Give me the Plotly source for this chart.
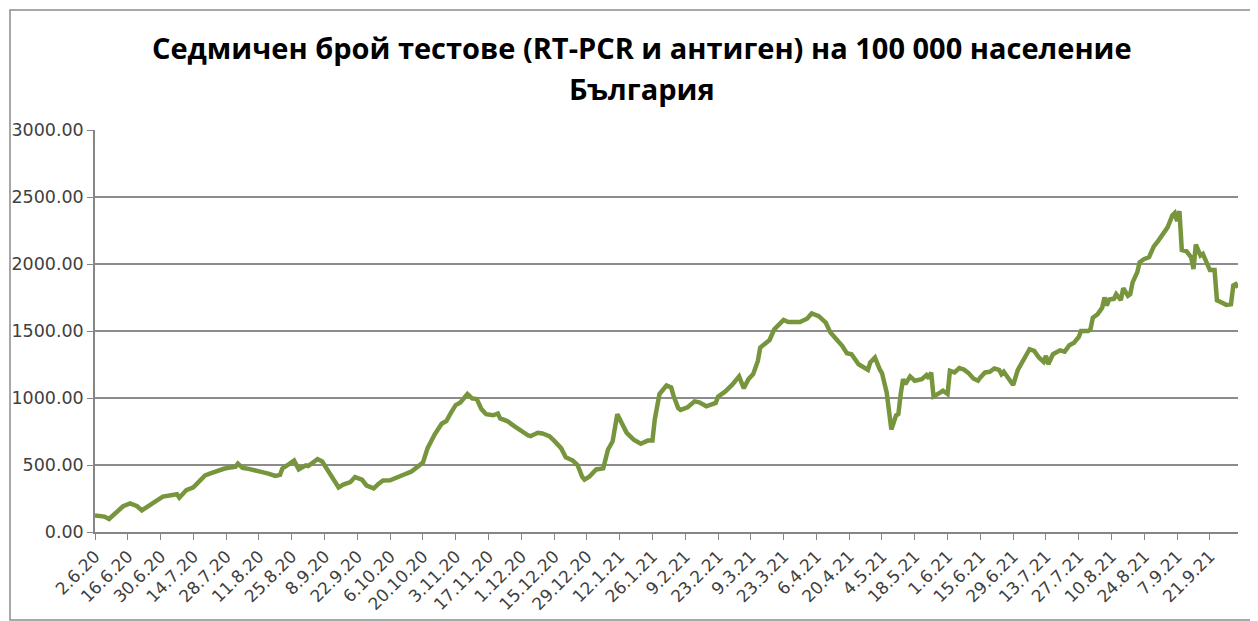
import pandas as pd
import plotly.graph_objects as go

# ---- data ----
start_date = "2020-06-02"
end_date = "2021-10-03"
day_offset = [0, 4, 6, 9, 12, 15, 18, 20, 24, 26, 29, 33, 35, 36, 39, 42, 45, 47, 49, 52,
              55, 58, 60, 61, 63, 66, 69, 71, 74, 77, 79, 80, 83, 85, 87, 89, 90, 91, 94, 95,
              97, 98, 100, 102, 104, 106, 109, 111, 114, 116, 119, 121, 123, 126, 129, 132, 135, 138, 140, 142,
              145, 148, 150, 152, 154, 156, 158, 159, 161, 163, 165, 167, 170, 172, 173, 176, 179, 182, 185, 186,
              189, 191, 194, 196, 199, 201, 204, 206, 208, 209, 211, 214, 217, 219, 221, 223, 225, 227, 230, 233,
              236, 238, 239, 241, 244, 246, 247, 249, 250, 253, 256, 258, 261, 263, 265, 266, 269, 272, 275, 277,
              279, 281, 283, 284, 286, 288, 290, 292, 294, 296, 299, 301, 304, 306, 309, 311, 312, 314, 316, 319,
              321, 323, 326, 329, 330, 331, 333, 335, 336, 338, 339, 340, 342, 343, 344, 345, 346, 348, 350, 353,
              355, 356, 357, 358, 361, 362, 364, 365, 367, 369, 371, 373, 375, 377, 378, 380, 382, 384, 386, 387,
              388, 390, 392, 394, 396, 399, 401, 403, 405, 406, 407, 409, 412, 414, 416, 418, 420, 421, 424, 425,
              426, 428, 430, 431, 432, 433, 435, 436, 438, 439, 441, 442, 443, 445, 446, 448, 450, 452, 454, 456,
              458, 460, 461, 462, 463, 464, 466, 468, 469, 470, 472, 473, 475, 476, 478, 479, 481, 483, 485, 486,
              487, 488]
tests_per_100k = [123, 115, 97, 141, 192, 213, 192, 161, 213, 231, 264, 277, 282, 256, 313, 333, 390, 423, 436, 456,
                  472, 482, 487, 510, 479, 469, 462, 449, 436, 418, 426, 474, 508, 533, 467, 487, 497, 492, 526, 544,
                  526, 500, 436, 385, 333, 354, 372, 410, 390, 346, 326, 359, 385, 386, 404, 429, 450, 495, 518, 626,
                  727, 808, 828, 891, 947, 967, 1005, 1030, 997, 992, 917, 879, 871, 884, 848, 828, 790, 752, 720, 715,
                  740, 735, 715, 682, 626, 558, 533, 500, 412, 391, 412, 467, 475, 614, 677, 879, 816, 740, 689, 659,
                  682, 682, 841, 1030, 1093, 1079, 1017, 925, 911, 931, 975, 968, 938, 955, 963, 1010, 1047, 1097, 1161, 1072,
                  1141, 1178, 1277, 1376, 1401, 1433, 1512, 1549, 1582, 1567, 1567, 1567, 1592, 1631, 1611, 1582, 1562, 1488, 1450, 1389,
                  1334, 1327, 1252, 1220, 1210, 1265, 1302, 1215, 1186, 1042, 910, 765, 869, 881, 1030, 1141, 1104, 1161, 1129, 1141,
                  1171, 1146, 1191, 1012, 1042, 1054, 1030, 1203, 1191, 1223, 1212, 1186, 1146, 1129, 1153, 1191, 1196, 1220, 1210, 1178,
                  1196, 1146, 1097, 1210, 1277, 1364, 1351, 1302, 1270, 1314, 1252, 1327, 1356, 1346, 1394, 1413, 1455, 1500, 1500, 1512,
                  1599, 1624, 1673, 1750, 1691, 1735, 1740, 1775, 1730, 1820, 1763, 1775, 1863, 1938, 2013, 2038, 2050, 2130, 2175, 2220,
                  2275, 2363, 2380, 2320, 2395, 2105, 2095, 2050, 1963, 2145, 2063, 2075, 1995, 1955, 1955, 1730, 1713, 1695, 1700, 1840,
                  1850, 1825]
y_ticks = [0, 500, 1000, 1500, 2000, 2500, 3000]
title_line1 = "Седмичен брой тестове (RT-PCR и антиген) на 100 000 население"
title_line2 = "България"

dates = pd.Timestamp(start_date) + pd.to_timedelta(day_offset, unit="D")

fig = go.Figure()
fig.add_trace(go.Scatter(
    x=dates, y=tests_per_100k, mode="lines",
    line=dict(color="#77953D", width=4.5),
    hoverinfo="x+y", showlegend=False,
))

# the page body adds an 8 px margin, so the figure is 8 px smaller than the window
W, H = 1250, 613
ml, mr, mt, mb = 87, 20, 122, 89
pw, ph = W - ml - mr, H - mt - mb


def py(pixel_y):
    """pixel row (from top of figure) -> paper y"""
    return (H - mb - pixel_y) / ph


def px(pixel_x):
    return (pixel_x - ml) / pw


fig.update_layout(
    width=W, height=H,
    margin=dict(l=ml, r=mr, t=mt, b=mb, autoexpand=False),
    paper_bgcolor="white", plot_bgcolor="white",
    font=dict(family="DejaVu Sans", size=15, color="#404040"),
)
for text, yc in ((title_line1, 39), (title_line2, 81)):
    fig.add_annotation(
        text=f"<b>{text}</b>", xref="paper", yref="paper",
        x=px(633.5), y=py(yc), xanchor="center", yanchor="middle",
        showarrow=False,
        font=dict(family="Open Sans", size=29, color="#000000"),
    )
fig.update_xaxes(
    type="date",
    range=[start_date, end_date],
    tick0=start_date, dtick=14 * 86400000,
    tickformat="%-d.%-m.%y",
    tickangle=-45,
    automargin=False,
    showgrid=False,
    showline=True, linecolor="#868686", linewidth=1.5,
    ticks="outside", ticklen=6, tickcolor="#868686",
    tickfont=dict(family="DejaVu Sans", size=17, color="#404040"),
    zeroline=False,
)
fig.update_yaxes(
    range=[0, 3000],
    tickvals=y_ticks,
    tickformat=".2f",
    automargin=False,
    showgrid=True, gridcolor="#8c8c8c", gridwidth=1.5,
    showline=True, linecolor="#868686", linewidth=1.5,
    ticks="outside", ticklen=6, tickcolor="#868686",
    tickfont=dict(family="DejaVu Sans", size=17.5, color="#404040"),
    zeroline=False,
)
# outer chart border (as in the spreadsheet chart frame)
fig.add_shape(
    type="rect", xref="paper", yref="paper",
    x0=px(2), x1=px(W + 20),
    y0=py(H - 1), y1=py(2),
    line=dict(color="#8c8c8c", width=1.5), layer="below",
)
fig.write_html("out.html")
